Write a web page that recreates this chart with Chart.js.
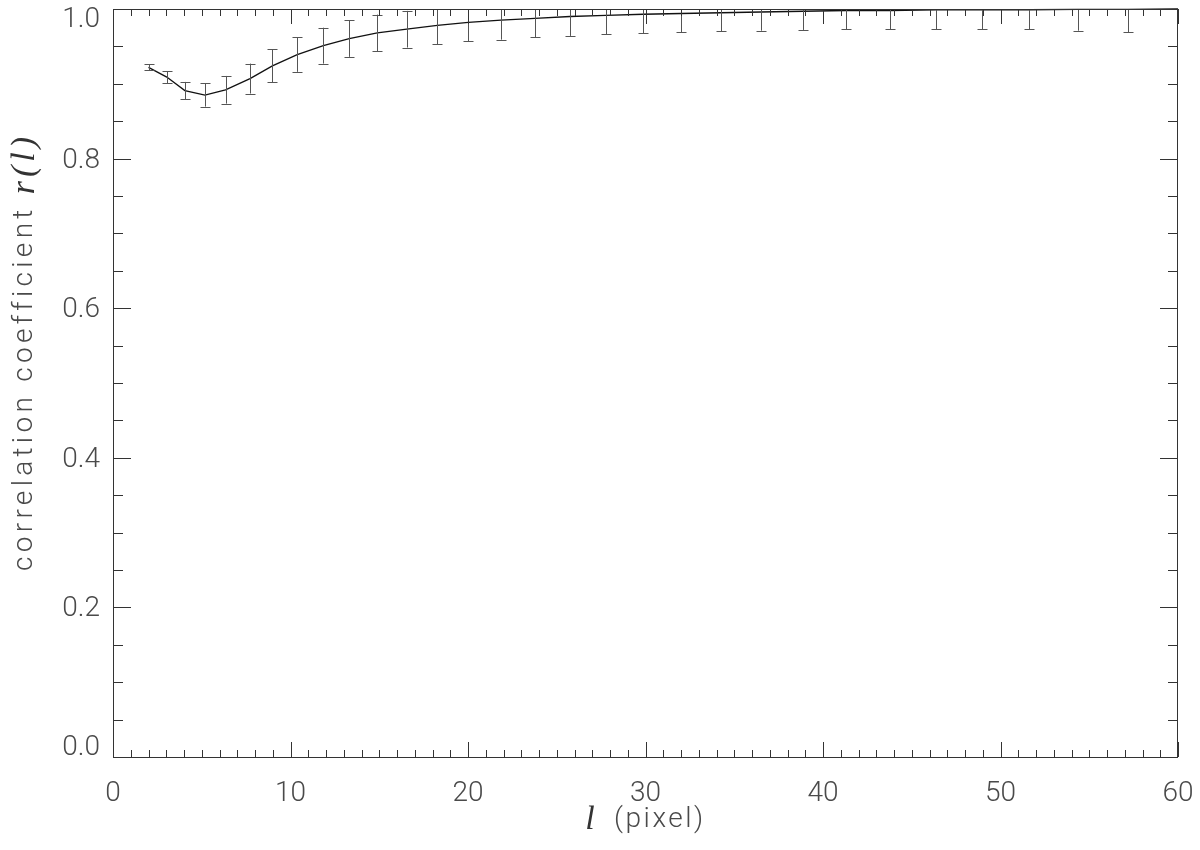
<!DOCTYPE html>
<html>
<head>
<meta charset="utf-8">
<script src="https://cdn.jsdelivr.net/npm/chart.js@4.4.1/dist/chart.umd.min.js"></script>
<style>
  html, body { margin: 0; padding: 0; background: #fff; }
  #wrap { position: relative; width: 1200px; height: 850px; }
</style>
</head>
<body>
<div id="wrap"><canvas id="chart"></canvas></div>
<script>
// lag l (pixel) of each measured point
const lagPixels = [2.0, 3.03, 4.05, 5.18, 6.34, 7.72, 8.98, 10.38, 11.85, 13.31,
                   14.89, 16.55, 18.27, 20.02, 21.86, 23.77, 25.75, 27.77, 29.88, 32.0,
                   34.25, 36.5, 38.9, 41.3, 43.77, 46.35, 48.97, 51.6, 54.35, 57.17];
// correlation coefficient r(l)
const corr = [0.922, 0.909, 0.891, 0.885, 0.892, 0.907, 0.924, 0.939, 0.951, 0.9605,
              0.968, 0.973, 0.978, 0.982, 0.985, 0.9875, 0.990, 0.9915, 0.993, 0.994,
              0.995, 0.996, 0.997, 0.998, 0.998, 0.999, 0.999, 0.999, 0.9995, 0.9995];
// half length of each error bar
const corrErr = [0.004, 0.008, 0.0115, 0.0155, 0.0185, 0.020, 0.022, 0.023, 0.024, 0.0245,
                 0.0245, 0.0245, 0.025, 0.025, 0.026, 0.0255, 0.026, 0.0255, 0.0255, 0.025,
                 0.025, 0.025, 0.025, 0.025, 0.025, 0.026, 0.026, 0.026, 0.0285, 0.0305];
// curve continues to the right edge
const tailX = [60];
const tailY = [1.0];

const xTicks = [0, 10, 20, 30, 40, 50, 60];
const yTicks = [0.0, 0.2, 0.4, 0.6, 0.8, 1.0];
const xMinorStep = 1;
const yMinorStep = 0.05;

const labelFont = "300 28px Roboto, 'DejaVu Sans', sans-serif";
const mathFont = "italic 34px 'Liberation Serif', 'DejaVu Serif', serif";
const textColor = "#4a4a4a";
const axisColor = "#333";

const curve = lagPixels.concat(tailX).map((x, i) => ({ x: x, y: corr.concat(tailY)[i] }));

// error bars, box, inward ticks and the y labels / axis titles
const framePlugin = {
    id: "frame",
    afterDatasetsDraw(chart) {
        const ctx = chart.ctx;
        const xs = chart.scales.x, ys = chart.scales.y;
        const a = chart.chartArea;
        ctx.save();
        ctx.beginPath();
        ctx.rect(a.left, a.top, a.right - a.left, a.bottom - a.top);
        ctx.clip();
        ctx.strokeStyle = "#555";
        ctx.lineWidth = 1;
        lagPixels.forEach((l, i) => {
            const px = Math.round(xs.getPixelForValue(l)) + 0.5;
            const y1 = ys.getPixelForValue(corr[i] + corrErr[i]);
            const y2 = ys.getPixelForValue(corr[i] - corrErr[i]);
            ctx.beginPath();
            ctx.moveTo(px, y1); ctx.lineTo(px, y2);
            ctx.moveTo(px - 5, Math.round(y1) + 0.5); ctx.lineTo(px + 5, Math.round(y1) + 0.5);
            ctx.moveTo(px - 5, Math.round(y2) + 0.5); ctx.lineTo(px + 5, Math.round(y2) + 0.5);
            ctx.stroke();
        });
        ctx.restore();
    },
    afterDraw(chart) {
        const ctx = chart.ctx;
        const xs = chart.scales.x, ys = chart.scales.y;
        const a = chart.chartArea;
        ctx.save();
        ctx.strokeStyle = axisColor;
        ctx.lineWidth = 1;
        ctx.strokeRect(a.left + 0.5, a.top + 0.5, a.right - a.left - 1, a.bottom - a.top);

        ctx.beginPath();
        const xMin = xTicks[0], xMax = xTicks[xTicks.length - 1];
        for (let v = xMin; v <= xMax + 1e-9; v += xMinorStep) {
            const major = xTicks.some(t => Math.abs(t - v) < 1e-6);
            const len = major ? 15 : 7;
            const px = Math.round(xs.getPixelForValue(v)) + 0.5;
            ctx.moveTo(px, a.bottom); ctx.lineTo(px, a.bottom - len);
            ctx.moveTo(px, a.top); ctx.lineTo(px, a.top + len);
        }
        const yMin = yTicks[0], yMax = yTicks[yTicks.length - 1];
        for (let v = yMin; v <= yMax + 1e-9; v += yMinorStep) {
            const major = yTicks.some(t => Math.abs(t - v) < 1e-6);
            const len = major ? 18 : 10;
            const py = Math.round(ys.getPixelForValue(v)) + 0.5;
            ctx.moveTo(a.left, py); ctx.lineTo(a.left + len, py);
            ctx.moveTo(a.right, py); ctx.lineTo(a.right - len, py);
        }
        ctx.stroke();

        // y tick labels, end labels kept inside the frame
        ctx.fillStyle = textColor;
        ctx.font = labelFont;
        ctx.textAlign = "right";
        ctx.textBaseline = "middle";
        yTicks.forEach(v => {
            let py = ys.getPixelForValue(v) + 2;
            py = Math.min(Math.max(py, a.top + 11), a.bottom - 9);
            ctx.fillText(v.toFixed(1), a.left - 13, py);
        });

        // y title
        ctx.save();
        ctx.translate(25, 352);
        ctx.rotate(-Math.PI / 2);
        ctx.textBaseline = "middle";
        ctx.textAlign = "left";
        const yPlain = "correlation coefficient ";
        const yMath = "r(l)";
        ctx.font = labelFont;
        ctx.letterSpacing = "4.3px";
        const w1 = ctx.measureText(yPlain).width;
        ctx.font = mathFont;
        ctx.letterSpacing = "4px";
        const w2 = ctx.measureText(yMath).width;
        ctx.font = labelFont;
        ctx.letterSpacing = "4.3px";
        ctx.fillText(yPlain, -(w1 + w2) / 2, 0);
        ctx.fillStyle = "#333";
        ctx.font = mathFont;
        ctx.letterSpacing = "4px";
        ctx.fillText(yMath, -(w1 + w2) / 2 + w1, 0);
        ctx.restore();

        // x title
        const xMath = "l";
        const xPlain = " (pixel)";
        ctx.textBaseline = "middle";
        ctx.textAlign = "left";
        ctx.font = mathFont;
        ctx.letterSpacing = "0px";
        const m1 = ctx.measureText(xMath).width + 10;
        ctx.font = labelFont;
        ctx.letterSpacing = "2.5px";
        const m2 = ctx.measureText(xPlain).width;
        const cx = (a.left + a.right) / 2 - (m1 + m2) / 2;
        ctx.fillStyle = "#333";
        ctx.font = mathFont;
        ctx.letterSpacing = "0px";
        ctx.fillText(xMath, cx, 820);
        ctx.fillStyle = textColor;
        ctx.font = labelFont;
        ctx.letterSpacing = "2.5px";
        ctx.fillText(xPlain, cx + m1, 820);
        ctx.restore();
    }
};

new Chart(document.getElementById("chart"), {
    type: "scatter",
    data: {
        datasets: [{
            label: "r(l)",
            data: curve,
            showLine: true,
            borderColor: "#111",
            borderWidth: 1.3,
            pointRadius: 0,
            tension: 0,
            clip: 1
        }]
    },
    options: {
        responsive: true,
        maintainAspectRatio: false,
        animation: false,
        layout: { padding: { left: 0, top: 9, right: 22, bottom: 0 } },
        plugins: {
            legend: { display: false },
            tooltip: { enabled: false }
        },
        scales: {
            x: {
                type: "linear",
                min: 0, max: 60,
                grid: { display: false, drawTicks: false },
                border: { display: false },
                afterBuildTicks: s => { s.ticks = xTicks.map(v => ({ value: v })); },
                afterFit: s => { s.height = 93; s.paddingLeft = 0; s.paddingRight = 0; },
                ticks: {
                    font: { family: "Roboto, 'DejaVu Sans', sans-serif", size: 28, weight: 300 },
                    color: textColor,
                    padding: 20,
                    maxRotation: 0,
                    callback: v => String(v)
                }
            },
            y: {
                type: "linear",
                min: 0, max: 1,
                grid: { display: false, drawTicks: false },
                border: { display: false },
                afterBuildTicks: s => { s.ticks = yTicks.map(v => ({ value: v })); },
                afterFit: s => { s.width = 113; s.paddingTop = 0; s.paddingBottom = 0; },
                ticks: { display: false }
            }
        }
    },
    plugins: [framePlugin]
});
</script>
</body>
</html>
